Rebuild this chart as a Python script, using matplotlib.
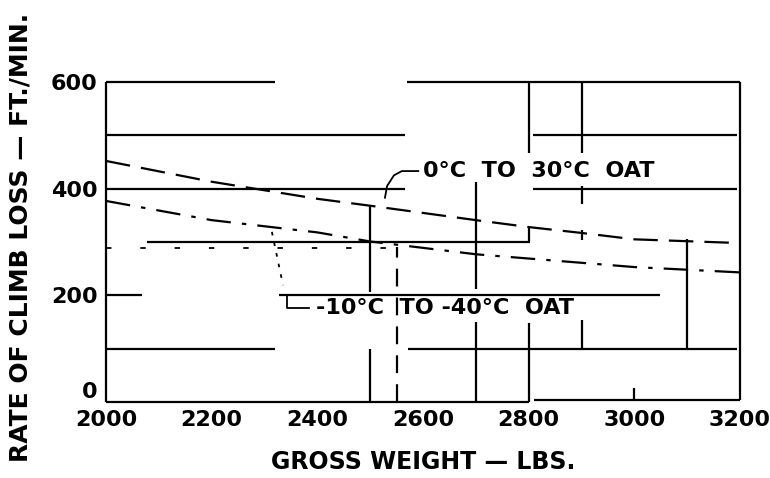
import matplotlib
matplotlib.use("Agg")
import matplotlib.pyplot as plt

# ---- data ----
weights_warm = [2000, 2200, 2400, 2500, 2700, 2800, 2900, 3000, 3200]
loss_warm = [452, 413, 381, 368, 341, 328, 317, 305, 298]          # 0°C to 30°C OAT

weights_cold = [2000, 2200, 2400, 2500, 2700, 2900, 3000, 3200]
loss_cold = [377, 341, 318, 301, 277, 261, 253, 243]               # -10°C to -40°C OAT

x_ticks = [2000, 2200, 2400, 2600, 2800, 3000, 3200]
y_ticks = [0, 200, 400, 600]

# grid fragments as printed (value, from, to)
h_grid_y = [600, 600, 500, 500, 400, 400, 300, 200, 200, 100, 100, 0, 4]
h_grid_x0 = [2000, 2570, 2000, 2808, 2000, 2808, 2077, 2000, 2328, 2000, 2572, 2000, 2810]
h_grid_x1 = [2320, 3200, 2565, 3195, 2565, 3195, 2803, 2068, 3049, 2320, 3195, 2800, 3200]

v_grid_x = [2000, 3200, 2500, 2500, 2700, 2700, 2800, 2800, 2800, 2900, 2900, 2900, 2900, 3000, 3100]
v_grid_y0 = [0, 4, 207, 0, 212, 0, 467, 300, 0, 467, 372, 304, 100, 4, 100]
v_grid_y1 = [600, 600, 368, 100, 412, 150, 598, 330, 148, 598, 405, 323, 154, 26, 305]

fig = plt.figure(figsize=(7.7, 4.78), dpi=100)
ax = fig.add_axes([106 / 770, 1 - 402 / 478, (740 - 106) / 770, (402 - 82) / 478])
ax.set_xlim(2000, 3200)
ax.set_ylim(0, 600)
for s in ax.spines.values():
    s.set_visible(False)

lw = 1.6
ax.hlines(h_grid_y, h_grid_x0, h_grid_x1, colors="black", linewidth=lw, clip_on=False)
ax.vlines(v_grid_x, v_grid_y0, v_grid_y1, colors="black", linewidth=lw, clip_on=False)

# dashed vertical at 2550
ax.plot([2550, 2550], [0, 290], color="black", linewidth=lw, dashes=(8, 5), clip_on=False)
# faint broken line near 288
ax.plot([2000, 2570], [288, 288], color="black", linewidth=1.3, dashes=(3, 16))

# curves
ax.plot(weights_warm, loss_warm, color="black", linewidth=lw, dashes=(11, 5))
ax.plot(weights_cold, loss_cold, color="black", linewidth=lw, dashes=(11, 5, 2, 5))

# labels with leaders
ax.plot([2528, 2532, 2545, 2560, 2591], [383, 405, 425, 433, 433], color="black", linewidth=1.3)
ax.text(2600, 433, "0°C  TO  30°C  OAT", fontsize=16, fontweight="bold",
        va="center", ha="left", family="DejaVu Sans")
ax.plot([2314, 2335], [319, 219], color="black", linewidth=1.3, dashes=(2, 4))
ax.plot([2343, 2343, 2385], [200, 176, 176], color="black", linewidth=1.3)
ax.text(2397, 176, "-10°C  TO -40°C  OAT", fontsize=16, fontweight="bold",
        va="center", ha="left", family="DejaVu Sans")

ax.set_xticks(x_ticks)
ax.set_yticks(y_ticks)
ax.tick_params(length=0, labelsize=16, pad=6)
for lab in ax.get_xticklabels() + ax.get_yticklabels():
    lab.set_fontweight("bold")
ax.get_yticklabels()[0].set_verticalalignment("bottom")

ax.set_xlabel("GROSS WEIGHT — LBS.", fontsize=17, fontweight="bold", labelpad=14)
fig.text(21 / 770, 1 - 237 / 478, "RATE OF CLIMB LOSS — FT./MIN.", rotation=90,
         fontsize=18, fontweight="bold", ha="center", va="center")

fig.savefig("out.png", dpi=100, facecolor="white")
